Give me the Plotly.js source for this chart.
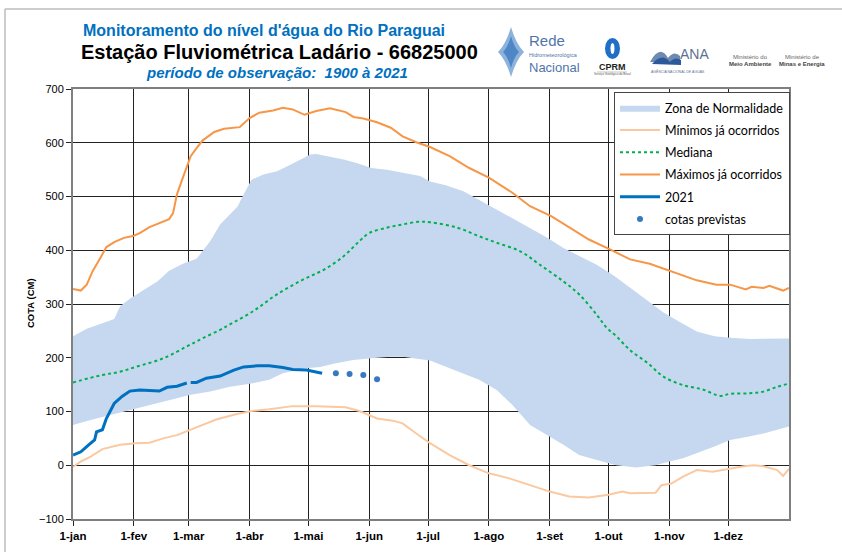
<!DOCTYPE html>
<html>
<head>
<meta charset="utf-8">
<script src="https://cdn.plot.ly/plotly-3.0.1.min.js"></script>
<style>html,body{margin:0;padding:0;background:#fff;}#chart{width:842px;height:552px;}</style>
</head>
<body>
<div id="chart"></div>
<script>
// ---- data (day of year, cota in cm) ----
const monthTickDays = [0,31,59,90,120,151,181,212,243,273,304,334];
const monthTickLabels = ["1-jan","1-fev","1-mar","1-abr","1-mai","1-jun","1-jul","1-ago","1-set","1-out","1-nov","1-dez"];

const upDays = [0,7,15,21,24,29,36,43,49,56,63,66,70,75,80,84,86,89,91,97,104,109,116,121,124,131,138,145,152,160,168,177,182,190,199,207,216,224,233,242,250,258,267,276,284,293,301,310,318,327,335,345,355,365];
const upVals = [240,254,264,272,296,310,326,342,362,375,384,398,417,448,466,482,497,519,531,541,547,556,569,578,579,574,569,562,553,550,544,538,528,521,510,494,476,460,442,423,404,389,373,352,330,305,284,265,249,240,237,235,236,236];

const loDays = [0,9,19,29,39,49,60,70,80,91,100,107,117,126,134,143,152,162,168,182,190,199,207,216,224,233,242,250,258,267,277,287,297,304,311,318,327,335,344,352,359,365];
const loVals = [75,84,93,103,112,121,131,137,146,152,159,171,180,183,190,196,199,202,202,195,183,171,159,140,112,75,56,38,19,10,0,-4,0,7,13,22,35,47,53,59,66,72];

const minDays = [0,4,9,15,24,32,39,46,53,60,66,73,83,91,100,112,124,139,146,155,163,168,175,182,192,202,212,222,233,243,253,263,273,280,284,292,297,300,305,311,318,326,335,342,347,352,359,362,365];
const minVals = [-3,7,16,30,38,41,42,50,56,66,75,85,95,101,104,110,110,108,101,87,83,78,59,41,19,0,-15,-24,-37,-49,-58,-60,-55,-49,-52,-52,-51,-37,-34,-21,-9,-12,-6,-2,0,-2,-9,-20,-7];

const medDays = [0,15,24,32,46,58,66,75,80,92,104,117,128,138,146,151,160,168,176,182,196,207,216,228,238,250,258,267,272,277,284,293,301,311,321,330,335,345,352,359,365];
const medVals = [154,168,174,183,199,221,236,252,262,287,318,345,364,389,417,432,442,448,453,452,442,426,414,398,373,342,318,280,256,240,214,190,165,149,141,129,133,134,137,146,152];

const maxDays = [0,4,7,10,14,17,21,26,31,34,39,44,49,51,53,55,58,60,63,66,72,77,85,90,95,102,107,112,118,124,131,139,143,148,155,162,168,175,182,192,202,212,224,233,244,253,263,274,284,294,305,318,328,335,343,346,352,355,362,365];
const maxVals = [328,325,336,361,386,406,415,423,427,432,443,451,458,469,504,525,556,575,590,604,620,626,629,646,656,660,665,662,652,659,664,657,648,645,638,628,612,601,592,575,553,535,507,482,463,442,420,401,383,375,361,344,336,336,327,332,330,334,325,330];

const y21Days = [0,4,8,11,12,15,17,21,25,29,34,39,44,48,53,58,59,60,63,68,75,82,87,94,100,107,112,119,123,127];
const y21Vals = [19,25,38,47,62,66,87,115,128,138,140,139,138,145,147,153,null,154,154,162,166,177,183,185,185,182,178,177,174,171];

const prevDays = [134,141,148,155];
const prevVals = [171,170,168,160];

// ---- layout helpers (pixel -> paper) ----
const L = 73, R = 789, T = 89, B = 519;
const px = x => (x - L) / (R - L);
const py = y => (B - y) / (B - T);

const zoneX = upDays.concat(loDays.slice().reverse());
const zoneY = upVals.concat(loVals.slice().reverse());

const traces = [
  {x: zoneX, y: zoneY, type: 'scatter', mode: 'lines', fill: 'toself', fillcolor: '#C6D8EF',
   line: {width: 0, color: '#C6D8EF'}, name: 'Zona de Normalidade', legendgroup: 'a', hoverinfo: 'skip'},
  {x: minDays, y: minVals, type: 'scatter', mode: 'lines', line: {color: '#FAC9A1', width: 2},
   name: 'Mínimos já ocorridos', legendgroup: 'b'},
  {x: medDays, y: medVals, type: 'scatter', mode: 'lines', line: {color: '#00B050', width: 2, dash: 'dot', shape: 'spline'},
   name: 'Mediana', legendgroup: 'c'},
  {x: maxDays, y: maxVals, type: 'scatter', mode: 'lines', line: {color: '#F79646', width: 2},
   name: 'Máximos já ocorridos', legendgroup: 'd'},
  {x: y21Days, y: y21Vals, type: 'scatter', mode: 'lines', line: {color: '#0070C0', width: 3},
   connectgaps: false, name: '2021', legendgroup: 'e'},
  {x: prevDays, y: prevVals, type: 'scatter', mode: 'markers', marker: {color: '#3878C0', size: 6},
   name: 'cotas previstas', legendgroup: 'f'}
];

const narrow = '"Liberation Sans Narrow", "Arial Narrow", "Liberation Sans", Arial, sans-serif';
const ann = (x, y, text, size, color, extra) => Object.assign({
  xref: 'paper', yref: 'paper', x: px(x), y: py(y), text: text, showarrow: false,
  xanchor: 'center', yanchor: 'middle', font: {family: narrow, size: size, color: color}
}, extra || {});

const annotations = [
  ann(264, 30, "<b>Monitoramento do nível d'água do Rio Paraguai</b>", 16, '#0070C0'),
  ann(279, 52, "<b>Estação Fluviométrica Ladário - 66825000</b>", 20, '#000000'),
  ann(277, 72, "<b><i>período de observação:  1900 à 2021</i></b>", 15, '#0070C0'),
  ann(30, 303, "<b>COTA (CM)</b>", 10, '#000', {textangle: -90, font: {family: '"Liberation Sans", Arial, sans-serif', size: 9.5, color: '#000'}}),
  ann(527, 41, "Rede", 15, '#4F76A8', {xanchor: 'left'}),
  ann(527, 55, "Hidrometeorológica", 5.5, '#4F76A8', {xanchor: 'left'}),
  ann(527, 67, "Nacional", 13, '#4F76A8', {xanchor: 'left'}),
  ann(612, 67, "<b>CPRM</b>", 9, '#222', {font: {family: '"Liberation Sans", Arial, sans-serif', size: 9, color: '#222'}}),
  ann(612, 74, "Serviço Geológico do Brasil", 3, '#555'),
  ann(694, 54, "ANA", 14, '#5D7290'),
  ann(678, 71, "AGÊNCIA NACIONAL DE ÁGUAS", 3.5, '#5D7290'),
  ann(750, 57, "Ministério do", 6, '#666'),
  ann(750, 64, "<b>Meio Ambiente</b>", 6, '#444'),
  ann(802, 57, "Ministério de", 6, '#666'),
  ann(802, 64, "<b>Minas e Energia</b>", 6, '#444')
];

const p = (x, y) => px(x).toFixed(4) + ',' + py(y).toFixed(4);
const shapes = [
  // outer frame (top & left)
  {type: 'line', xref: 'paper', yref: 'paper', x0: px(5), x1: px(842), y0: py(9), y1: py(9), line: {color: '#BDBDBD', width: 1.5}},
  {type: 'line', xref: 'paper', yref: 'paper', x0: px(5), x1: px(5), y0: py(9), y1: py(552), line: {color: '#BDBDBD', width: 1.5}},
  // Rede logo diamond
  {type: 'path', xref: 'paper', yref: 'paper', path: 'M' + p(511, 27) + ' Q' + p(516, 44) + ' ' + p(524, 52) + ' Q' + p(516, 60) + ' ' + p(511, 77) + ' Q' + p(506, 60) + ' ' + p(498, 52) + ' Q' + p(506, 44) + ' ' + p(511, 27) + ' Z',
   fillcolor: '#8DB3DD', line: {width: 0}},
  {type: 'path', xref: 'paper', yref: 'paper', path: 'M' + p(511, 36) + ' Q' + p(514, 47) + ' ' + p(519, 52) + ' Q' + p(514, 57) + ' ' + p(511, 68) + ' Q' + p(508, 57) + ' ' + p(503, 52) + ' Q' + p(508, 47) + ' ' + p(511, 36) + ' Z',
   fillcolor: '#4F86C6', line: {width: 0}},
  // CPRM logo
  {type: 'circle', xref: 'paper', yref: 'paper', x0: px(605), x1: px(620), y0: py(59), y1: py(38), fillcolor: '#1F6FC8', line: {width: 0}},
  {type: 'circle', xref: 'paper', yref: 'paper', x0: px(610.5), x1: px(614.5), y0: py(54), y1: py(43), fillcolor: '#FFFFFF', line: {width: 0}},
  {type: 'line', xref: 'paper', yref: 'paper', x0: px(597), x1: px(627), y0: py(72), y1: py(72), line: {color: '#888', width: 0.5}},
  // ANA logo waves
  {type: 'path', xref: 'paper', yref: 'paper', path: 'M' + p(650, 62) + ' Q' + p(660, 44) + ' ' + p(668, 58) + ' Q' + p(674, 50) + ' ' + p(680, 56) + ' L' + p(680, 62) + ' Z', fillcolor: '#6F89B0', line: {width: 0}},
  {type: 'path', xref: 'paper', yref: 'paper', path: 'M' + p(652, 64) + ' Q' + p(662, 52) + ' ' + p(670, 62) + ' Q' + p(675, 56) + ' ' + p(681, 60) + ' L' + p(681, 65) + ' Z', fillcolor: '#2B5A9A', line: {width: 0}}
];

const layout = {
  width: 842, height: 552,
  margin: {l: L, r: 842 - R, t: T, b: 552 - B, pad: 0},
  paper_bgcolor: '#FFFFFF', plot_bgcolor: '#FFFFFF',
  showlegend: true,
  legend: {x: px(614), y: py(92), xanchor: 'left', yanchor: 'top', bgcolor: '#FFFFFF',
    bordercolor: '#444', borderwidth: 1, tracegroupgap: 3, traceorder: 'grouped', itemwidth: 40,
    font: {family: 'Lato, "Open Sans", sans-serif', size: 12.5, color: '#000'}},
  xaxis: {range: [0, 365], tickmode: 'array', tickvals: monthTickDays, ticktext: monthTickLabels,
    showgrid: true, gridcolor: '#222', gridwidth: 1, zeroline: false,
    showline: true, linecolor: '#7F7F7F', linewidth: 2, mirror: true,
    ticks: 'outside', ticklen: 5, tickcolor: '#222',
    tickfont: {family: narrow, size: 11.5, color: '#000', weight: 'bold'}, fixedrange: true},
  yaxis: {range: [-100, 700], dtick: 100, tick0: 0,
    showgrid: true, gridcolor: '#222', gridwidth: 1, zeroline: false,
    showline: true, linecolor: '#7F7F7F', linewidth: 2, mirror: true,
    ticks: 'outside', ticklen: 5, tickcolor: '#222',
    tickfont: {family: '"Liberation Sans", Arial, sans-serif', size: 11, color: '#000'}, fixedrange: true},
  annotations: annotations,
  shapes: shapes
};

Plotly.newPlot('chart', traces, layout, {displayModeBar: false, staticPlot: true});
</script>
</body>
</html>
